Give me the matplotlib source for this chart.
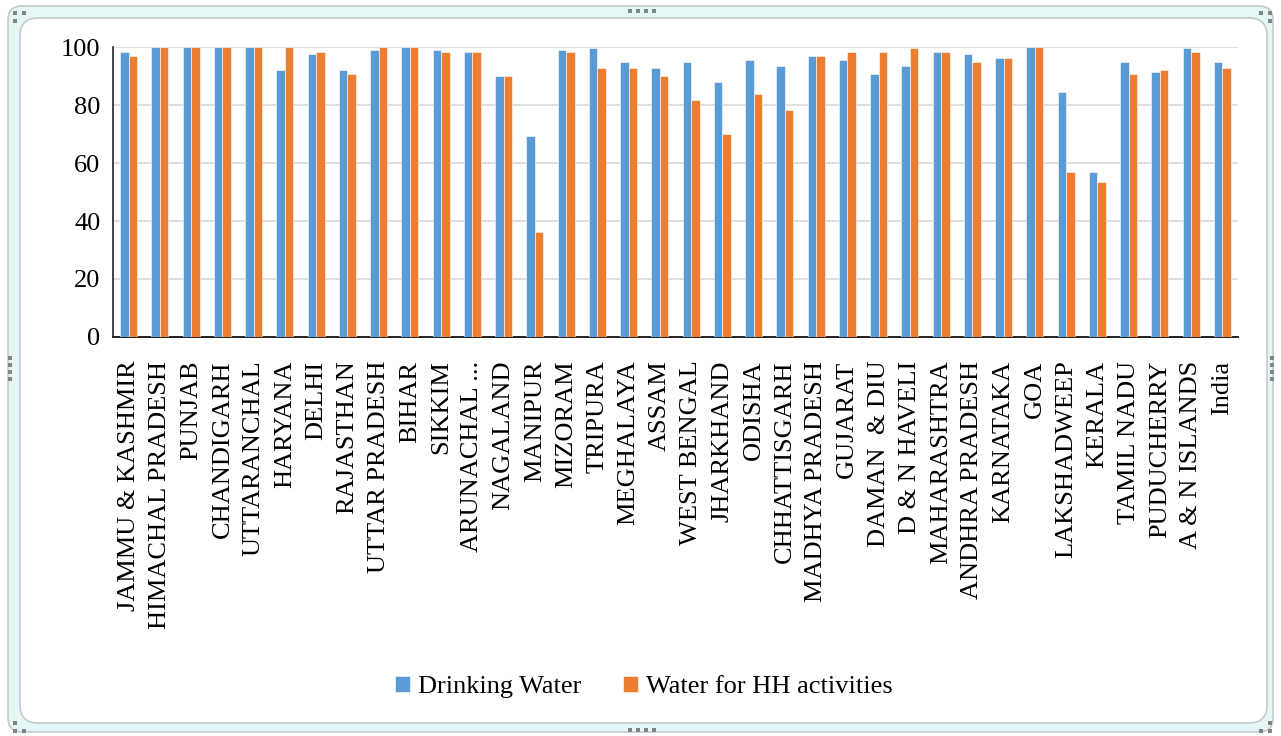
import numpy as np
import matplotlib
matplotlib.use("Agg")
import matplotlib.pyplot as plt
from matplotlib.patches import FancyBboxPatch, Rectangle

plt.rcParams['font.family'] = ['Liberation Serif', 'DejaVu Serif']

states = [
    "JAMMU & KASHMIR", "HIMACHAL PRADESH", "PUNJAB", "CHANDIGARH", "UTTARANCHAL",
    "HARYANA", "DELHI", "RAJASTHAN", "UTTAR PRADESH", "BIHAR", "SIKKIM",
    "ARUNACHAL ...", "NAGALAND", "MANIPUR", "MIZORAM", "TRIPURA", "MEGHALAYA",
    "ASSAM", "WEST BENGAL", "JHARKHAND", "ODISHA", "CHHATTISGARH",
    "MADHYA PRADESH", "GUJARAT", "DAMAN  & DIU", "D & N HAVELI", "MAHARASHTRA",
    "ANDHRA PRADESH", "KARNATAKA", "GOA", "LAKSHADWEEP", "KERALA", "TAMIL NADU",
    "PUDUCHERRY", "A & N ISLANDS", "India",
]

drinking_water = [
    98.2, 100, 100, 100, 100, 92.0, 97.5, 92.0, 98.9, 100, 98.9,
    98.2, 89.9, 69.2, 98.9, 99.8, 94.7, 92.6, 94.7, 87.8, 95.4, 93.3,
    96.8, 95.4, 90.6, 93.3, 98.2, 97.5, 96.1, 100, 84.4, 56.8, 94.7,
    91.3, 99.8, 94.7,
]

hh_activities = [
    96.8, 100, 100, 100, 100, 100, 98.2, 90.6, 100, 100, 98.2,
    98.2, 89.9, 36.1, 98.2, 92.6, 92.6, 89.9, 81.6, 69.9, 83.7, 78.2,
    96.8, 98.2, 98.2, 99.8, 98.2, 94.7, 96.1, 100, 56.8, 53.3, 90.6,
    92.0, 98.2, 92.6,
]

y_ticks = [0, 20, 40, 60, 80, 100]
series_names = ["Drinking Water", "Water for HH activities"]
blue = "#5B9BD5"
orange = "#ED7D31"

W, H = 1281, 736
fig = plt.figure(figsize=(W / 100, H / 100), dpi=100)

# Window-like frame drawn in pixel coordinates
bg = fig.add_axes([0, 0, 1, 1], zorder=0)
bg.set_xlim(0, W)
bg.set_ylim(H, 0)
bg.axis("off")
outer = FancyBboxPatch((8 + 10, 6 + 10), W - 16 - 20, H - 10 - 20,
                       boxstyle="round,pad=10,rounding_size=14",
                       facecolor="#e4f6f6", edgecolor="#c3cbcb", linewidth=1.2)
inner = FancyBboxPatch((20 + 16, 18 + 16), 1267 - 20 - 32, 723 - 18 - 32,
                       boxstyle="round,pad=16,rounding_size=18",
                       facecolor="white", edgecolor="#c3cbcb", linewidth=1.2)
bg.add_patch(outer)
bg.add_patch(inner)

dot_col = "#7f8585"
def dot(x, y):
    bg.add_patch(Rectangle((x - 2, y - 2), 4, 4, facecolor=dot_col, edgecolor="none"))

for x in (630, 638, 646, 654):
    dot(x, 11)
    dot(x, 730)
for y in (358, 365, 372, 379):
    dot(10, y)
    dot(1272, y)
for (x, y) in [(15, 13), (24, 13), (15, 21),
               (1261, 13), (1270, 13), (1270, 21),
               (15, 723), (15, 731), (24, 731),
               (1270, 723), (1261, 731), (1270, 731)]:
    dot(x, y)

# Bar chart
ax = fig.add_axes([113 / W, 1 - 337 / H, (1238 - 113) / W, (337 - 47) / H], zorder=1)
ax.set_facecolor("none")
x = np.arange(len(states))
bw = 0.27
ax.bar(x - bw / 2, drinking_water, bw, color=blue, edgecolor="white",
       linewidth=0.4, label=series_names[0], zorder=3)
ax.bar(x + bw / 2, hh_activities, bw, color=orange, edgecolor="white",
       linewidth=0.4, label=series_names[1], zorder=3)

ax.set_xlim(-0.5, len(states) - 0.5)
ax.set_ylim(0, 100)
ax.set_yticks(y_ticks)
ax.set_yticklabels([str(v) for v in y_ticks], fontsize=19)
ax.yaxis.grid(True, color="#d9d9d9", linewidth=1.2, zorder=0)
ax.set_axisbelow(True)
ax.set_xticks(x)
ax.set_xticklabels(states, rotation=90, fontsize=19, va="top", ha="center")
ax.tick_params(axis="both", length=0)
ax.tick_params(axis="y", pad=9)
ax.tick_params(axis="x", pad=17)
for side in ("top", "right"):
    ax.spines[side].set_visible(False)
ax.spines["left"].set_color("#222222")
ax.spines["bottom"].set_color("#222222")
ax.spines["left"].set_linewidth(1.2)
ax.spines["bottom"].set_linewidth(1.4)

leg = fig.legend(loc="center", bbox_to_anchor=(644 / W, 1 - 687 / H), ncol=2,
                 frameon=False, fontsize=19, handlelength=0.55, handleheight=0.55,
                 handletextpad=0.3, columnspacing=1.6)

fig.savefig("out.png", dpi=100)
